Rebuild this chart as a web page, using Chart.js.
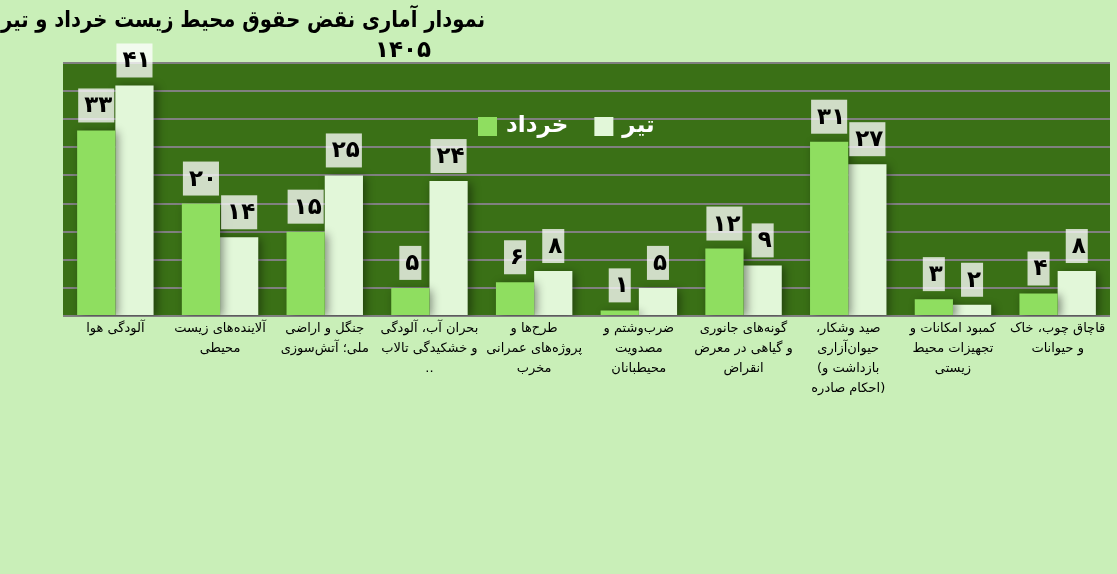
<!DOCTYPE html>
<html lang="fa">
<head>
<meta charset="utf-8">
<title>نقض حقوق محیط زیست</title>
<script src="https://cdn.jsdelivr.net/npm/chart.js@4.4.0/dist/chart.umd.min.js"></script>
<style>
    html, body { margin: 0; padding: 0; background: #c9efb8; overflow: hidden; }
    #wrap { width: 1117px; height: 574px; position: relative; }
    canvas { direction: ltr; }
</style>
</head>
<body>
<div id="wrap"><canvas id="violationsChart" dir="ltr"></canvas></div>
<script>
// داده‌های نمودار
const LRM = '\u200E';
const RLM = '\u200F';
const categories = [
    ['آلودگی هوا'],
    ['آلاینده‌های زیست', 'محیطی'],
    ['جنگل و اراضی', 'ملی؛ آتش‌سوزی'],
    ['بحران آب، آلودگی', 'و خشکیدگی تالاب', '..'],
    ['طرح‌ها و', 'پروژه‌های عمرانی', 'مخرب'],
    ['ضرب‌وشتم و', 'مصدویت', 'محیطبانان'],
    ['گونه‌های جانوری', 'و گیاهی در معرض', 'انقراض'],
    [LRM + 'صید وشکار،' + RLM, 'حیوان‌آزاری', LRM + '(بازداشت و', LRM + 'احکام صادره)'],
    ['کمبود امکانات و', 'تجهیزات محیط', 'زیستی'],
    ['قاچاق چوب، خاک', 'و حیوانات']
];
const khordadValues = [33, 20, 15, 5, 6, 1, 12, 31, 3, 4];
const tirValues = [41, 14, 25, 24, 8, 5, 9, 27, 2, 8];
const seriesNames = ['خرداد', 'تیر'];
const titleLines = ['نمودار آماری نقض حقوق محیط زیست خرداد و تیر', '۱۴۰۵'];
const yMax = 45;
const yStep = 5;

const FONT = "'DejaVu Sans', Arial, sans-serif";
const toFaDigits = (v) => String(v).replace(/\d/g, d => '۰۱۲۳۴۵۶۷۸۹'[d]);

// پس‌زمینه ناحیه نمودار
const plotBackground = {
    id: 'plotBackground',
    beforeDraw(chart) {
        const { ctx, chartArea: a } = chart;
        ctx.direction = 'ltr';
        ctx.save();
        ctx.fillStyle = '#3a7016';
        ctx.fillRect(a.left, a.top, a.right - a.left, a.bottom - a.top);
        ctx.restore();
    }
};

// سایه ستون‌ها + برچسب مقادیر
const barsAndLabels = {
    id: 'barsAndLabels',
    beforeDatasetsDraw(chart) {
        const ctx = chart.ctx;
        ctx.save();
        ctx.shadowColor = 'rgba(0,0,0,0.45)';
        ctx.shadowBlur = 9;
        ctx.shadowOffsetX = 3;
        ctx.shadowOffsetY = 2;
    },
    afterDatasetsDraw(chart) {
        const ctx = chart.ctx;
        ctx.restore();
        ctx.save();
        ctx.font = 'bold 23px ' + FONT;
        ctx.letterSpacing = '4px';
        ctx.textAlign = 'center';
        ctx.textBaseline = 'middle';
        chart.data.datasets.forEach((ds, i) => {
            chart.getDatasetMeta(i).data.forEach((bar, j) => {
                const txt = toFaDigits(ds.data[j]);
                const w = ctx.measureText(txt).width + 8;
                const h = 34;
                const bottom = bar.y - 8;
                ctx.fillStyle = 'rgba(255,255,255,0.76)';
                ctx.fillRect(bar.x - w / 2, bottom - h, w, h);
                ctx.fillStyle = '#000';
                ctx.fillText(txt, bar.x + 2, bottom - h / 2 + 1);
            });
        });
        ctx.restore();
    }
};

// راهنما داخل ناحیه نمودار
const innerLegend = {
    id: 'innerLegend',
    afterDraw(chart) {
        const { ctx, chartArea: a } = chart;
        ctx.save();
        ctx.font = 'bold 23px ' + FONT;
        ctx.textBaseline = 'middle';
        ctx.textAlign = 'left';
        let x = a.left + 415;
        const y = a.top + 63;
        chart.data.datasets.forEach((ds) => {
            ctx.fillStyle = ds.backgroundColor;
            ctx.fillRect(x, y - 9, 19, 19);
            x += 28;
            ctx.fillStyle = '#ffffff';
            ctx.fillText(ds.label, x, y);
            x += ctx.measureText(ds.label).width + 26;
        });
        ctx.restore();
    }
};

// عنوان
const chartTitle = {
    id: 'chartTitle',
    afterDraw(chart) {
        const ctx = chart.ctx;
        ctx.save();
        ctx.font = 'bold 23px ' + FONT;
        ctx.fillStyle = '#000';
        ctx.textBaseline = 'middle';
        ctx.textAlign = 'right';
        const w = ctx.measureText(titleLines[0]).width;
        const sx = Math.min(1, 484 / w);
        ctx.save();
        ctx.translate(485, 21);
        ctx.scale(sx, 1);
        ctx.fillText(titleLines[0], 0, 0);
        ctx.restore();
        ctx.textAlign = 'center';
        ctx.letterSpacing = '4px';
        ctx.fillText(titleLines[1], 403, 51);
        ctx.restore();
    }
};

new Chart(document.getElementById('violationsChart'), {
    type: 'bar',
    data: {
        labels: categories,
        datasets: [
            {
                label: seriesNames[0],
                data: khordadValues,
                backgroundColor: '#8fde60',
                categoryPercentage: 0.73,
                barPercentage: 1.0
            },
            {
                label: seriesNames[1],
                data: tirValues,
                backgroundColor: '#e2f7d9',
                categoryPercentage: 0.73,
                barPercentage: 1.0
            }
        ]
    },
    options: {
        responsive: true,
        maintainAspectRatio: false,
        animation: false,
        layout: { padding: { left: 63, right: 7, top: 63, bottom: 0 } },
        plugins: {
            legend: { display: false },
            title: { display: false },
            tooltip: { enabled: false }
        },
        scales: {
            x: {
                grid: { display: false, drawTicks: false },
                border: { display: false },
                ticks: {
                    color: '#000',
                    font: { family: FONT, size: 13, lineHeight: '20px' },
                    padding: 3,
                    maxRotation: 0,
                    autoSkip: false
                },
                afterFit(scale) { scale.height = 258; }
            },
            y: {
                min: 0,
                max: yMax,
                border: { display: false },
                grid: { color: '#808080', lineWidth: 2, drawTicks: false },
                ticks: { display: false, stepSize: yStep },
                afterFit(scale) { scale.width = 0; }
            }
        }
    },
    plugins: [plotBackground, barsAndLabels, innerLegend, chartTitle]
});
</script>
</body>
</html>
